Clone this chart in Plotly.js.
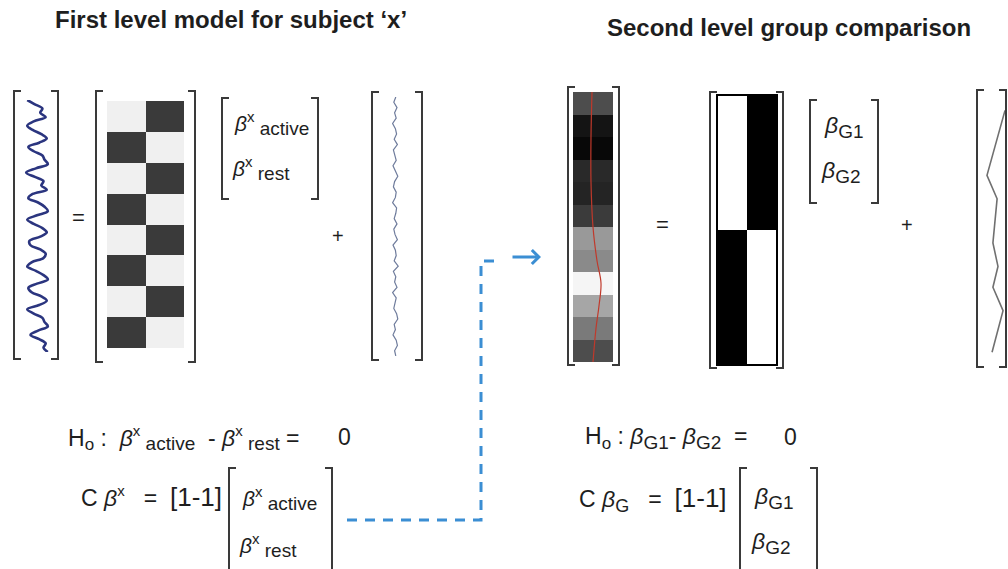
<!DOCTYPE html>
<html>
<head>
<meta charset="utf-8">
<script src="https://cdn.plot.ly/plotly-3.0.1.min.js"></script>
<style>
  html, body { margin: 0; padding: 0; background: #ffffff; }
  #chart { width: 1008px; height: 569px; }
</style>
</head>
<body>
<div id="chart"></div>
<script>
// ---------------- DATA ----------------
// first level: measured BOLD signal (horizontal displacement per time step)
const signalWave = [
  -0.9, -0.2, 0.5, 0.3, 0.8,
  -0.3, -0.9, -0.4, 0.4, 0.9,
  0.2, -0.8, -0.3, 0.5, 0.7,
  1.0, -0.1, -1.0, -0.2, 0.6,
  0.4, 0.9, -0.4, -0.8, 0.1,
  0.7, 1.0, 0.0, -0.9, -0.3,
  0.5, 0.9, 0.3, -0.7, -0.6,
  0.3, 0.8, 0.6, -0.5, -0.9,
  -0.1, 0.6, 1.0, 0.0, -0.8,
  -0.5, 0.4, 0.9, 0.2, -0.9,
  -0.3, 0.5, 0.7, 1.0, 0.1,
  -0.6, 0.2, 0.8, 0.6, 1.0
];
// first level design matrix: columns = [active, rest], 1 = dark block
const designMatrix = [
  [0, 1], [1, 0], [0, 1], [1, 0],
  [0, 1], [1, 0], [0, 1], [1, 0]
];
const firstBetaNames = ['active', 'rest'];
// first level residual noise
const residualNoise = [
  0.2, -0.3, 0.5, -0.1, 0.3, -0.6, 0.1, 0.4, -0.2, 0.6,
  -0.4, 0.0, 0.3, -0.5, 0.2, 0.7, -0.1, -0.4, 0.3, 0.1,
  -0.6, 0.4, 0.2, -0.2, 0.5, -0.3, 0.0, 0.6, -0.5, 0.1,
  0.3, -0.2, 0.8, -0.4, 0.2, -0.1, 0.5, -0.6, 0.3, 0.0,
  -0.3, 0.4, 0.7, -0.2, 0.1, -0.5, 0.3, 0.6, -0.1, 0.2
];
// second level: contrast images of 12 subjects (grey level, 0 = black, 1 = white)
const groupData = [0.30, 0.08, 0.03, 0.16, 0.14, 0.23, 0.60, 0.54, 0.96, 0.65, 0.48, 0.30];
// fitted line through the group data (red)
const groupFitRow = [-0.5, 1.5, 3.5, 5.5, 7, 8, 9, 10, 11.5];
const groupFitX   = [-0.025, -0.05, -0.05, 0.0, 0.1, 0.2, 0.15, 0.075, 0.0];
// second level design matrix: columns = [G1, G2], 1 = white
const groupDesign = [[1, 0], [0, 1]];
const groupBetaNames = ['G1', 'G2'];
// second level residual
const groupResidT = [0.04, 0.29, 0.38, 0.55, 0.64, 0.72, 0.81, 0.97];
const groupResidX = [0.91, 0.09, 0.55, 0.36, 0.59, 0.36, 0.82, 0.32];
// text
const titles = ['First level model for subject ‘x’', 'Second level group comparison'];
const contrastRow = '[1-1]';

// ---------------- LAYOUT HELPERS ----------------
const W = 1008, H = 569;
const fx = v => v / W;
const fy = v => 1 - v / H;
const xd = (a, b) => [a / W, b / W];
const yd = (a, b) => [1 - b / H, 1 - a / H];

const FONT = 'Liberation Sans, Arial, Helvetica, sans-serif';
const INK = '#1e1e1e';
const BR = '#3a3a3a';
const BLUE = '#3b8ed3';
const NB = '\u00a0';

const rows = arr => arr.map((_, i) => i);

const traces = [
  { type: 'scatter', mode: 'lines', x: signalWave, y: rows(signalWave),
    xaxis: 'x2', yaxis: 'y2', line: { color: '#2b357f', width: 2.6, shape: 'spline' }, hoverinfo: 'skip' },
  { type: 'heatmap', z: designMatrix, xaxis: 'x3', yaxis: 'y3', zmin: 0, zmax: 1,
    colorscale: [[0, '#f0f0f0'], [1, '#3a3a3a']], showscale: false, hoverinfo: 'skip' },
  { type: 'scatter', mode: 'lines', x: residualNoise, y: rows(residualNoise),
    xaxis: 'x4', yaxis: 'y4', line: { color: '#6f7c9c', width: 1.2 }, hoverinfo: 'skip' },
  { type: 'heatmap', z: groupData.map(v => [v]), xaxis: 'x5', yaxis: 'y5', zmin: 0, zmax: 1,
    colorscale: [[0, '#000000'], [1, '#ffffff']], showscale: false, hoverinfo: 'skip' },
  { type: 'scatter', mode: 'lines', x: groupFitX, y: groupFitRow, xaxis: 'x5', yaxis: 'y5',
    line: { color: '#c0392b', width: 1.2, shape: 'spline' }, hoverinfo: 'skip' },
  { type: 'heatmap', z: groupDesign, xaxis: 'x6', yaxis: 'y6', zmin: 0, zmax: 1,
    colorscale: [[0, '#000000'], [1, '#ffffff']], showscale: false, hoverinfo: 'skip' },
  { type: 'scatter', mode: 'lines', x: groupResidX, y: groupResidT, xaxis: 'x7', yaxis: 'y7',
    line: { color: '#707070', width: 1.6 }, hoverinfo: 'skip' }
];

const layout = {
  width: W, height: H,
  margin: { l: 0, r: 0, t: 0, b: 0, pad: 0 },
  paper_bgcolor: '#ffffff', plot_bgcolor: 'rgba(0,0,0,0)',
  showlegend: false,
  shapes: [], annotations: []
};

function panel(n, xdom, ydom, xr, yr) {
  layout['xaxis' + n] = { domain: xdom, range: xr, visible: false, fixedrange: true, anchor: 'y' + n };
  layout['yaxis' + n] = { domain: ydom, range: yr, visible: false, fixedrange: true, anchor: 'x' + n };
}
panel(2, xd(24, 50), yd(100, 352), [-1.2, 1.2], [signalWave.length - 1, 0]);
panel(3, xd(107, 184), yd(101, 348), [-0.5, 1.5], [designMatrix.length - 0.5, -0.5]);
panel(4, xd(389, 401), yd(97, 356), [-1.5, 1.5], [residualNoise.length - 1, 0]);
panel(5, xd(573, 613), yd(92, 362), [-0.5, 0.5], [groupData.length - 0.5, -0.5]);
panel(6, xd(717, 777), yd(95, 365), [-0.5, 1.5], [groupDesign.length - 0.5, -0.5]);
panel(7, xd(985, 1007), yd(100, 360), [0, 1], [1, 0]);

// brackets
function bracket(x, y0, y1, side, w) {
  w = w || 7;
  const d = side === 'L' ? w : -w;
  layout.shapes.push({
    type: 'path', xref: 'paper', yref: 'paper',
    path: `M ${fx(x + d)},${fy(y0)} L ${fx(x)},${fy(y0)} L ${fx(x)},${fy(y1)} L ${fx(x + d)},${fy(y1)}`,
    line: { color: BR, width: 2 }
  });
}
function pair(xl, xr, y0, y1) { bracket(xl, y0, y1, 'L'); bracket(xr, y0, y1, 'R'); }
pair(14, 58, 91, 359);
pair(96, 195, 91, 362);
pair(222, 318, 98, 199);
pair(372, 422, 92, 360);
pair(568, 619, 87, 365);
pair(710, 783, 92, 368);
pair(810, 878, 100, 203);
pair(977, 1006, 90, 367);
pair(229, 332, 468, 585);
pair(740, 817, 468, 585);

// border of second level design matrix
layout.shapes.push({ type: 'rect', xref: 'paper', yref: 'paper',
  x0: fx(717), x1: fx(777), y0: fy(95), y1: fy(365), line: { color: '#000', width: 2 } });

// dashed connector
layout.shapes.push({ type: 'path', xref: 'paper', yref: 'paper',
  path: `M ${fx(347)},${fy(520)} L ${fx(481)},${fy(520)} L ${fx(481)},${fy(261)} L ${fx(497)},${fy(261)}`,
  line: { color: BLUE, width: 3, dash: '10px,8px' } });

function txt(x, y, text, size, anchor) {
  layout.annotations.push({
    xref: 'paper', yref: 'paper', x: fx(x), y: fy(y), text: text, showarrow: false,
    xanchor: anchor || 'left', yanchor: 'middle', borderpad: 0, borderwidth: 0,
    font: { family: FONT, size: size, color: INK }
  });
}
const sz = (px, s) => `<span style="font-size:${px}px">${s}</span>`;
// beta with superscript x and a subscript word
const bx = (name, b, sp, sb) => sz(b, '<i>β</i>') + '<sup>' + sz(sp, 'x') + '</sup><sub>' + sz(sb, NB + name) + '</sub>';
// beta with group subscript
const bg = (name, b, sb) => sz(b, '<i>β</i>') + '<sub>' + sz(sb, name) + '</sub>';

// titles
txt(55, 20, '<b>' + titles[0] + '</b>', 24);
txt(607, 28, '<b>' + titles[1] + '</b>', 24);
// first level equation
txt(78, 217, '=', 22, 'center');
txt(234, 123, bx(firstBetaNames[0], 21, 15, 19), 21);
txt(232, 168, bx(firstBetaNames[1], 21, 15, 19), 21);
txt(338, 236, '+', 20, 'center');
// second level equation
txt(662, 225, '=', 22, 'center');
txt(824, 127, bg(groupBetaNames[0], 23, 19), 23);
txt(821, 172, bg(groupBetaNames[1], 23, 19), 23);
txt(907, 225, '+', 20, 'center');
// contrasts, first level
txt(68, 438, 'H<sub>' + sz(17, 'o') + '</sub>' + NB + ':' + NB + NB + bx(firstBetaNames[0], 23, 15, 19) + NB + NB + '-' + NB + bx(firstBetaNames[1], 23, 15, 19) + NB + '=', 23);
txt(344, 437, '0', 23, 'center');
txt(81, 497, 'C ' + sz(23, '<i>β</i>') + '<sup>' + sz(15, 'x') + '</sup>' + NB + NB + NB + '=' + NB + NB + sz(26, contrastRow), 23);
txt(242, 498, bx(firstBetaNames[0], 21, 15, 19), 21);
txt(239, 545, bx(firstBetaNames[1], 21, 15, 19), 21);
// contrasts, second level
txt(585, 438, 'H<sub>' + sz(17, 'o') + '</sub>' + NB + ':' + NB + bg(groupBetaNames[0], 23, 19) + '-' + NB + bg(groupBetaNames[1], 23, 19) + NB + NB + '=', 23);
txt(790, 437, '0', 23, 'center');
txt(579, 499, 'C ' + bg('G', 23, 18) + NB + NB + NB + '=' + NB + NB + sz(26, contrastRow), 23);
txt(754, 498, bg(groupBetaNames[0], 23, 19), 23);
txt(751, 543, bg(groupBetaNames[1], 23, 19), 23);

// arrow
layout.annotations.push({ xref: 'paper', yref: 'paper', x: fx(541), y: fy(257), ax: -30, ay: 0,
  text: '', showarrow: true, arrowhead: 4, arrowsize: 0.9, arrowwidth: 3, arrowcolor: BLUE });

Plotly.newPlot('chart', traces, layout, { staticPlot: true, displayModeBar: false });
</script>
</body>
</html>
